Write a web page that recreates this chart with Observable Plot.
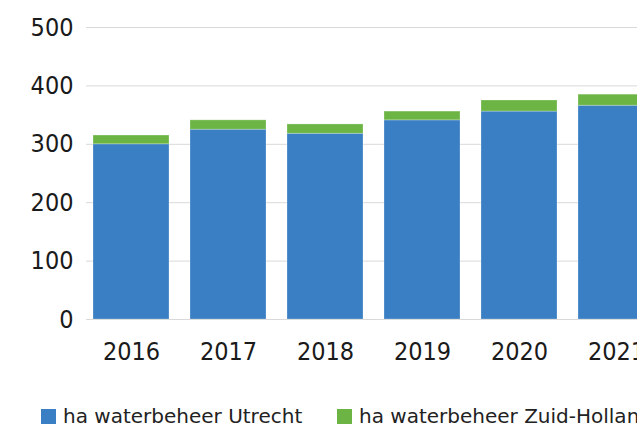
<!DOCTYPE html>
<html>
<head>
<meta charset="utf-8">
<script src="https://cdn.jsdelivr.net/npm/d3@7"></script>
<script src="https://cdn.jsdelivr.net/npm/@observablehq/plot@0.6"></script>
<style>
  html, body { margin: 0; padding: 0; background: #fff; overflow: hidden; }
  body { width: 637px; height: 428px; font-family: "DejaVu Sans Condensed", "DejaVu Sans", sans-serif; }
  #chart { width: 662px; }
  #chart svg { max-width: none !important; display: block; }
  #legend { position: absolute; top: 405px; left: 0; width: 800px; height: 22px; font-size: 20px; font-family: "DejaVu Sans", sans-serif; color: #222; white-space: nowrap; }
  .item { position: absolute; top: 0; display: flex; align-items: center; height: 22px; }
  .sw { width: 15px; height: 15px; margin-right: 7px; }
</style>
</head>
<body>
<div id="chart"></div>
<div id="legend"></div>
<script>
const years = ["2016", "2017", "2018", "2019", "2020", "2021"];
const utrecht = [300, 325, 318, 341, 356, 366];
const zuidHolland = [15, 16, 16, 15, 19, 19];
const seriesNames = ["ha waterbeheer Utrecht", "ha waterbeheer Zuid-Holland"];
const seriesColors = ["#3a7fc3", "#6cb545"];
const yTicks = [0, 100, 200, 300, 400, 500];

const rows = [];
years.forEach((y, i) => {
  rows.push({year: y, series: seriesNames[0], value: utrecht[i]});
  rows.push({year: y, series: seriesNames[1], value: zuidHolland[i]});
});

const chart = Plot.plot({
  width: 662,
  height: 375,
  marginLeft: 86,
  marginRight: 0,
  marginTop: 27,
  marginBottom: 56,
  style: {fontFamily: "'DejaVu Sans Condensed', 'DejaVu Sans', sans-serif", fontSize: "25px", color: "#1a1a1a", background: "#fff", overflow: "visible", maxWidth: "none"},
  x: {domain: years, paddingInner: 0.215, paddingOuter: 0.07, label: null, tickSize: 0, tickPadding: 23},
  y: {domain: [0, 500], ticks: yTicks, label: null, tickSize: 0, tickPadding: 13},
  color: {domain: seriesNames, range: seriesColors},
  marks: [
    Plot.gridY(yTicks, {stroke: "#d9d9d9", strokeOpacity: 1, strokeWidth: 1}),
    Plot.barY(rows, Plot.stackY({x: "year", y: "value", fill: "series", order: seriesNames, stroke: "#ffffff", strokeOpacity: 0.25, strokeWidth: 1})),
    Plot.axisX({tickSize: 0, tickPadding: 23, fontSize: 25}),
    Plot.axisY({ticks: yTicks, tickSize: 0, tickPadding: 13, fontSize: 25})
  ]
});
document.getElementById("chart").appendChild(chart);

const legend = document.getElementById("legend");
const lefts = [41, 337];
seriesNames.forEach((name, i) => {
  const item = document.createElement("div");
  item.className = "item";
  item.style.left = lefts[i] + "px";
  const sw = document.createElement("span");
  sw.className = "sw";
  sw.style.background = seriesColors[i];
  const t = document.createElement("span");
  t.textContent = name;
  item.appendChild(sw);
  item.appendChild(t);
  legend.appendChild(item);
});
</script>
</body>
</html>
